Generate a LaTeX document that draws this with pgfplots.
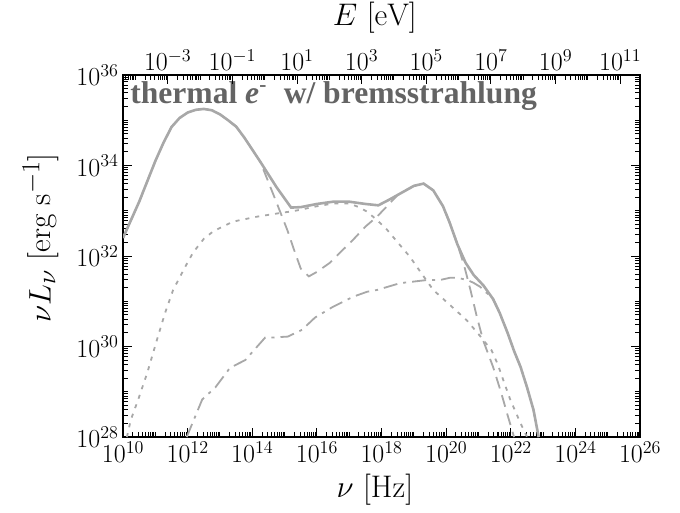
\documentclass[border=0pt]{standalone}
\usepackage{fontspec}
\usepackage{pgfplots}
\pgfplotsset{compat=1.18}
\newfontfamily\titlefont{Liberation Serif}
\definecolor{curve}{RGB}{168,168,168}
\definecolor{titlec}{RGB}{100,100,100}

\def\xminor{1e11}
\foreach \ee in {10,...,25}{\foreach \mm in {2,...,9}{\xdef\xminor{\xminor,\mm e\ee}}}
\foreach \ee in {13,15,...,25}{\xdef\xminor{\xminor,1e\ee}}
\def\yminor{1e29}
\foreach \ee in {28,...,35}{\foreach \mm in {2,...,9}{\xdef\yminor{\yminor,\mm e\ee}}}
\foreach \ee in {31,33,35}{\xdef\yminor{\yminor,1e\ee}}
\def\eminor{1e-4}
\foreach \ee in {-5,...,10}{\foreach \mm in {2,...,9}{\xdef\eminor{\eminor,\mm e\ee}}}
\foreach \ee in {-2,0,2,4,6,8,10}{\xdef\eminor{\eminor,1e\ee}}

\pgfplotsset{
  myaxis/.style={
    scale only axis, width=412.3pt, height=288.7pt,
    at={(0pt,0pt)}, anchor=south west,
    tick align=inside,
    major tick length=7.2pt, minor tick length=3.8pt,
    every tick/.style={black, line width=0.8pt},
    axis line style={black, line width=1.04pt},
    tick label style={font=\fontsize{20.74}{22}\selectfont},
    label style={font=\fontsize{24.88}{26}\selectfont},
  }
}

\begin{document}
\begin{tikzpicture}
\useasboundingbox (-98.1pt,-59.8pt) rectangle (444.1pt,348.5pt);
\begin{axis}[myaxis,
  xmode=log, ymode=log,
  xmin=1e10, xmax=1e26, ymin=1e28, ymax=1e36,
  xtick={1e10,1e12,1e14,1e16,1e18,1e20,1e22,1e24,1e26},
  ytick={1e28,1e30,1e32,1e34,1e36},
  minor xtick/.expanded={\xminor},
  minor ytick/.expanded={\yminor},
  xtick pos=left, ytick pos=both,
  xlabel={$\nu\ [\mathrm{Hz}]$},
  ylabel={$\nu L_\nu\ [\mathrm{erg\ s^{-1}}]$},
  xlabel style={at={(axis description cs:0.487,-0.146)}, anchor=center},
  ylabel style={at={(axis description cs:-0.16,0.55)}, anchor=center},
]
% dotted component
\addplot[curve, line width=1.44pt, dash pattern=on 3.2pt off 4.8pt] coordinates {
(1.318e10,1e28) (1.738e10,2.399e28) (2.951e10,6.761e28) (5.623e10,2.630e29)
(1.122e11,1.413e30) (1.995e11,5.495e30) (3.548e11,1.778e31) (8.511e11,5.888e31)
(1.479e12,1.202e32) (3.162e12,2.399e32) (6.310e12,3.548e32) (2.512e13,5.754e32)
(1.413e14,7.413e32) (7.244e14,8.913e32) (1.820e15,9.772e32) (3.981e15,1.096e33)
(1e16,1.259e33) (3.162e16,1.445e33) (1e17,1.445e33) (1.995e17,1.202e33)
(3.548e17,9.550e32) (7.079e17,6.310e32) (1.479e18,3.802e32) (3.162e18,1.995e32)
(7.586e18,9.550e31) (1.778e19,3.981e31) (3.981e19,1.778e31) (1.660e20,7.079e30)
(4.467e20,3.715e30) (1.122e21,1.698e30) (2.512e21,8.318e29) (3.981e21,3.981e29)
(5.370e21,2.138e29) (9.550e21,6.761e28) (1.950e22,2.089e28) (3.162e22,1e28)
};
% dashed component
\addplot[curve, line width=1.44pt, dash pattern=on 9.6pt off 5.6pt] coordinates {
(1e10,2.512e32) (1.778e10,6.310e32) (3.162e10,1.585e33) (5.623e10,4.467e33)
(1e11,1.259e34) (1.778e11,3.162e34) (3.162e11,7.079e34) (5.623e11,1.122e35)
(1e12,1.479e35) (1.778e12,1.698e35) (3.162e12,1.778e35) (5.623e12,1.660e35)
(1e13,1.349e35) (1.778e13,1e35) (3.162e13,7.244e34) (5.623e13,4.169e34)
(1e14,2.239e34) (1.778e14,1.202e34) (2.818e14,5.248e33) (5.623e14,1.514e33)
(1.202e15,3.802e32) (1.995e15,1.318e32) (3.162e15,5.248e31) (5.623e15,3.548e31)
(1e16,4.467e31) (2.512e16,7.079e31) (5.623e16,1.259e32) (1.318e17,2.291e32)
(3.162e17,4.467e32) (7.244e17,7.413e32) (1.259e18,1.122e33) (1.995e18,1.585e33)
(3.162e18,2.239e33) (5.623e18,2.818e33) (1e19,3.548e33) (1.995e19,3.981e33)
(3.981e19,2.818e33) (7.943e19,1.259e33) (1.259e20,5.623e32) (2.239e20,1.778e32)
(3.548e20,6.310e31) (5.623e20,1.778e31) (8.913e20,4.467e30) (1.413e21,1.318e30)
(2.818e21,3.548e29) (5.012e21,9.550e28) (7.943e21,3.020e28) (1.259e22,1e28)
};
% dash-dot component (bremsstrahlung)
\addplot[curve, line width=1.44pt, dash pattern=on 11.2pt off 4.8pt on 2.4pt off 4.8pt] coordinates {
(9.333e11,1e28) (2.818e12,6.761e28) (7.244e12,1.259e29) (2.042e13,3.388e29)
(6.026e13,5.012e29) (2.512e14,1.585e30) (4.365e14,1.585e30) (1.259e15,1.660e30)
(3.467e15,2.344e30) (8.710e15,4.365e30) (3.162e16,7.586e30) (1.318e17,1.259e31)
(3.548e17,1.622e31) (7.244e17,1.778e31) (3.715e18,2.512e31) (2.570e19,2.951e31)
(6.457e19,2.951e31) (1.318e20,3.311e31) (2.188e20,3.311e31) (4.467e20,2.951e31)
(6.918e20,2.570e31) (1.122e21,2.089e31) (1.585e21,1.660e31) (2.818e21,1.122e31)
(4.467e21,5.623e30) (7.943e21,1.995e30) (1.259e22,7.943e29) (1.995e22,3.548e29)
(3.162e22,1.259e29) (5.012e22,3.981e28) (7.244e22,1e28)
};
% total
\addplot[curve, line width=2.07pt] coordinates {
(1e10,2.512e32) (1.778e10,6.310e32) (3.162e10,1.585e33) (5.623e10,4.467e33)
(1e11,1.259e34) (1.778e11,3.162e34) (3.162e11,7.079e34) (5.623e11,1.122e35)
(1e12,1.479e35) (1.778e12,1.698e35) (3.162e12,1.778e35) (5.623e12,1.660e35)
(1e13,1.349e35) (1.778e13,1e35) (3.162e13,7.244e34) (5.623e13,4.169e34)
(1e14,2.239e34) (1.778e14,1.202e34) (3.162e14,6.310e33) (5.623e14,3.311e33)
(1e15,1.862e33) (1.585e15,1.175e33) (3.162e15,1.202e33) (1e16,1.413e33)
(3.162e16,1.585e33) (1e17,1.585e33) (3.162e17,1.413e33) (7.943e17,1.318e33)
(1.778e18,1.778e33) (3.162e18,2.239e33) (5.623e18,2.818e33) (1e19,3.548e33)
(1.995e19,3.981e33) (3.981e19,2.818e33) (7.943e19,1.259e33) (1.259e20,5.623e32)
(2.239e20,1.778e32) (3.981e20,7.079e31) (7.079e20,3.802e31) (1.413e21,2.239e31)
(2.818e21,1.122e31) (4.467e21,5.623e30) (7.943e21,1.995e30) (1.259e22,7.943e29)
(1.995e22,3.548e29) (3.162e22,1.259e29) (5.012e22,3.981e28) (7.244e22,1e28)
};
\node[anchor=base west, inner sep=0pt, text=titlec, font=\titlefont\bfseries\fontsize{25.2}{26}\selectfont]
  at (rel axis cs:0.0135,0.92) {thermal \textit{e}\raisebox{0.38em}{\fontsize{17}{17}\selectfont -}\hspace{0.55em}w/ bremsstrahlung};
\end{axis}
\begin{axis}[myaxis,
  xmode=log, ymode=log,
  xmin=4.1357e-5, xmax=4.1357e11, ymin=1e28, ymax=1e36,
  axis x line*=top, hide y axis,
  xtick={1e-3,1e-1,1e1,1e3,1e5,1e7,1e9,1e11},
  minor xtick/.expanded={\eminor},
  xlabel={$E\ [\mathrm{eV}]$},
  xlabel style={at={(axis description cs:0.487,1.157)}, anchor=center},
]
\end{axis}
\end{tikzpicture}
\end{document}
